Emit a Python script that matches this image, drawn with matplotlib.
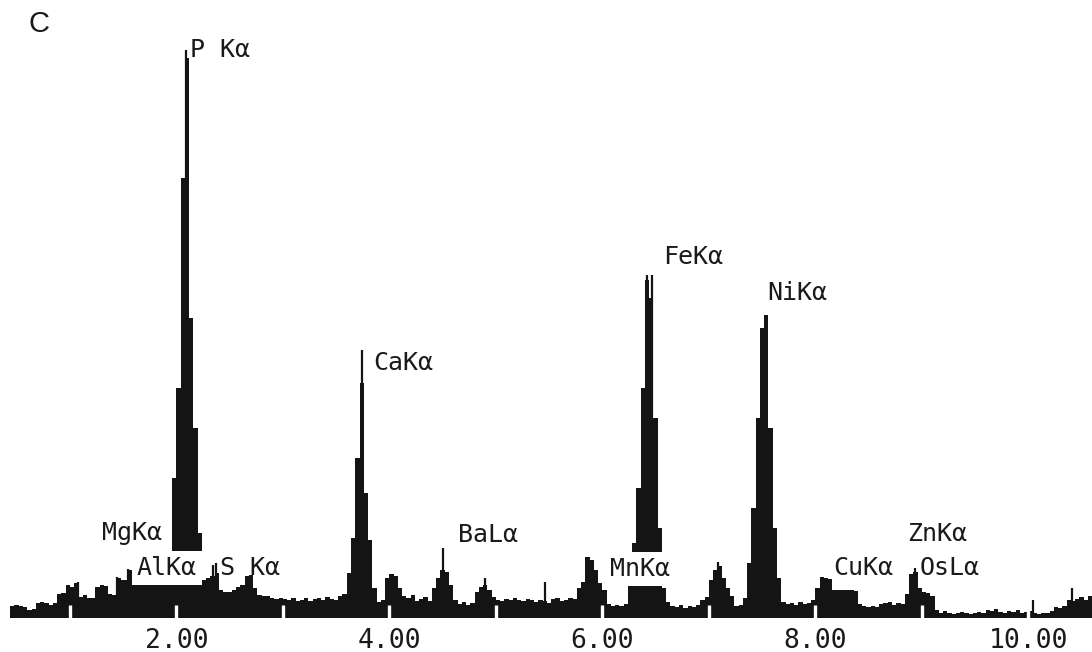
import numpy as np
import matplotlib
matplotlib.use("Agg")
import matplotlib.pyplot as plt

# ---- data -----------------------------------------------------------------
# EDS spectrum: counts per energy channel (channel width 0.04 keV, first channel starts at 0.44 keV)
channel_start_kev = 0.44
channel_width_kev = 0.04
counts = [
    12, 13, 12, 11, 8, 9, 15, 16, 15, 13, 15, 24, 25, 33, 31, 35, 21, 23, 20, 20, 31, 33, 32, 24, 23,
    40, 38, 38, 48, 46, 44, 42, 40, 42, 44, 48, 55, 62, 140, 230, 440, 560, 300, 190, 85, 38, 40, 42, 45, 28,
    26, 26, 28, 31, 33, 42, 43, 30, 23, 22, 22, 20, 19, 20, 19, 18, 20, 17, 18, 20, 17, 19, 20, 18, 21,
    19, 18, 22, 24, 45, 80, 160, 235, 125, 78, 30, 16, 18, 40, 44, 42, 30, 22, 20, 23, 17, 19, 21, 17, 30,
    40, 48, 46, 33, 18, 14, 16, 13, 15, 26, 31, 33, 28, 21, 18, 17, 19, 18, 20, 18, 17, 19, 18, 16, 18,
    17, 15, 19, 20, 17, 18, 20, 19, 30, 36, 61, 58, 48, 35, 28, 14, 12, 13, 12, 14, 32, 75, 130, 230, 338,
    320, 200, 90, 30, 16, 12, 11, 13, 10, 12, 11, 13, 18, 21, 38, 48, 52, 40, 30, 22, 12, 13, 20, 55, 110,
    200, 290, 303, 190, 90, 40, 16, 14, 15, 13, 16, 14, 15, 18, 30, 41, 40, 39, 28, 28, 28, 28, 28, 27, 14,
    12, 11, 12, 11, 14, 15, 16, 13, 15, 14, 24, 44, 46, 30, 26, 25, 22, 8, 5, 7, 5, 4, 5, 6, 5,
    4, 5, 6, 5, 8, 7, 9, 6, 5, 7, 6, 8, 5, 6, 7, 5, 4, 5, 5, 7, 11, 10, 12, 18, 17,
    19, 21, 18, 22,
]

# single-channel spikes (thin lines)
spike_kev = [1.076, 1.442, 1.546, 2.090, 2.344, 2.372, 3.743, 4.503, 4.898, 5.461,
             6.419, 6.466, 7.086, 8.935, 10.044, 10.410]
spike_counts = [36, 41, 49, 568, 53, 55, 268, 70, 40, 36,
                343, 343, 56, 50, 18, 30]

# peak labels
peak_labels = ["P Kα", "CaKα", "FeKα", "NiKα", "MgKα", "AlKα", "S Kα",
               "BaLα", "MnKα", "ZnKα", "CuKα", "OsLα"]
label_kev = [2.128, 3.846, 6.569, 7.546, 1.302, 1.630, 2.410,
             4.644, 6.072, 8.861, 8.166, 8.983]
label_counts = [568, 255, 361, 325, 85, 50, 50, 83, 49, 84, 50, 50]
boxed_labels = ["AlKα", "MnKα"]

# energy scale
scale_marks_kev = [1, 2, 3, 4, 5, 6, 7, 8, 9, 10]
tick_kev = [2, 4, 6, 8, 10]
tick_labels = ["2.00", "4.00", "6.00", "8.00", "10.00"]

panel_letter = "C"

# ---- drawing ----------------------------------------------------------------
W, H = 1092, 652
fig = plt.figure(figsize=(W / 100, H / 100), dpi=100)
fig.patch.set_facecolor("white")
ax = fig.add_axes([0, 34 / H, 1, 618 / H])
ax.set_xlim(0.344, 10.598)
ax.set_ylim(0, 618)

edges = channel_start_kev + channel_width_kev * np.arange(len(counts) + 1)
ax.stairs(counts, edges, fill=True, color="#141414", zorder=2)
ax.vlines(spike_kev, 0, spike_counts, color="#141414", lw=1.6, zorder=2)

# white calibration marks at each keV at the bottom of the spectrum
ax.vlines(scale_marks_kev, 0, 13, color="white", lw=2.4, zorder=3)

mono = "DejaVu Sans Mono"
for txt, x, y in zip(peak_labels, label_kev, label_counts):
    kw = {}
    if txt in boxed_labels:
        kw["bbox"] = dict(boxstyle="square,pad=0.2", fc="white", ec="none")
    ax.text(x, y, txt, ha="left", va="center", fontsize=18, family=mono,
            color="#1a1a1a", zorder=4, **kw)

ax.set_xticks(tick_kev)
ax.set_xticklabels(tick_labels, family=mono, fontsize=19, color="#1a1a1a")
ax.tick_params(axis="x", length=0, pad=7)
ax.set_yticks([])
for s in ax.spines.values():
    s.set_visible(False)
ax.patch.set_alpha(0)

fig.text(28 / W, 1 - 24 / H, panel_letter, ha="left", va="center",
         fontsize=21, family="Liberation Sans", color="#1a1a1a")

fig.savefig("out.png", dpi=100, facecolor="white")
